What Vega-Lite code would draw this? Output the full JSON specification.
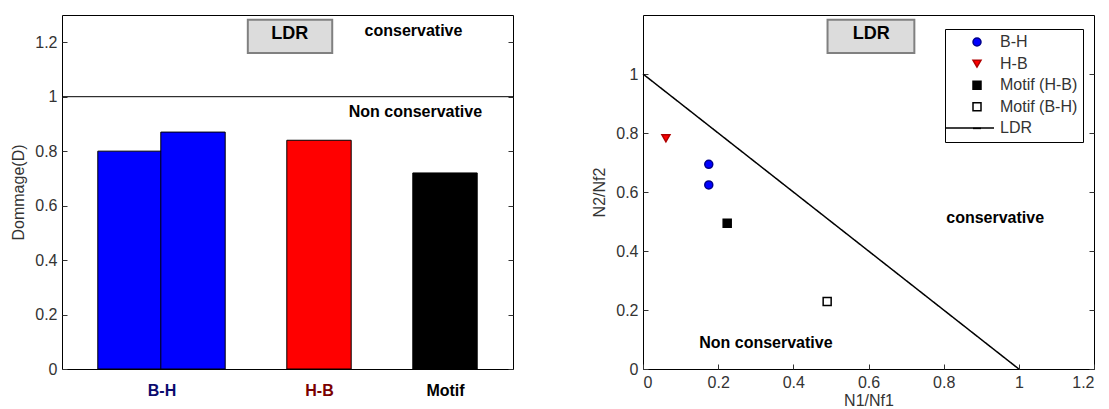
{
  "$schema": "https://vega.github.io/schema/vega-lite/v6.json",
  "padding": {"left": 10, "top": 14, "right": 5, "bottom": 5},
  "background": "white",
  "config": {
    "font": "Liberation Sans",
    "view": {"stroke": "#000", "strokeWidth": 1},
    "axis": {"grid": false, "labelFont": "Liberation Sans", "labelFontSize": 16, "labelColor": "#333", "titleFont": "Liberation Sans", "titleFontSize": 16, "titleFontWeight": "normal", "titleColor": "#333", "tickColor": "#333", "domain": false}
  },
  "resolve": {"scale": {"fill": "independent", "stroke": "independent", "shape": "independent", "strokeDash": "independent"}},
  "hconcat": [
    {
      "width": 451,
      "height": 354,
      "data": {"values": [
        {"groupe": "B-H", "pos": 1, "D": 0.80},
        {"groupe": "B-H", "pos": 2, "D": 0.87},
        {"groupe": "H-B", "pos": 4, "D": 0.84},
        {"groupe": "Motif", "pos": 6, "D": 0.72}
      ]},
      "layer": [
        {
          "mark": {"type": "bar", "width": 64.4, "stroke": "#000", "strokeWidth": 1},
          "encoding": {
            "x": {"field": "pos", "type": "quantitative", "scale": {"domain": [0, 7], "nice": false, "zero": false},
              "axis": {"values": [1.5, 4, 6], "labelExpr": "datum.value < 2 ? 'B-H' : datum.value < 5 ? 'H-B' : 'Motif'", "ticks": false, "title": null, "labelFontSize": 16, "labelFontWeight": "bold", "labelPadding": 13,
                "labelColor": {"condition": [{"test": "datum.value < 2", "value": "#0b0b6e"}, {"test": "datum.value > 3 && datum.value < 5", "value": "#7a0000"}], "value": "#000"}}},
            "y": {"field": "D", "type": "quantitative", "scale": {"domain": [0, 1.3], "nice": false},
              "axis": {"orient": "left", "values": [0, 0.2, 0.4, 0.6, 0.8, 1, 1.2], "format": "~g", "tickSize": -5, "labelPadding": 10, "title": "Dommage(D)", "titlePadding": 8}},
            "fill": {"field": "groupe", "type": "nominal", "scale": {"domain": ["B-H", "H-B", "Motif"], "range": ["#0000ff", "#ff0000", "#000000"]}, "legend": null}
          }
        },
        {
          "data": {"values": [{}]},
          "mark": {"type": "rule", "color": "#000", "strokeWidth": 1},
          "encoding": {
            "y": {"datum": 1, "type": "quantitative", "axis": {"orient": "right", "values": [0, 0.2, 0.4, 0.6, 0.8, 1, 1.2], "labels": false, "tickSize": -5, "title": null}}
          }
        },
        {
          "data": {"values": [{}]},
          "mark": {"type": "rect", "fill": "#dcdcdc", "stroke": "#808080", "strokeWidth": 2},
          "encoding": {
            "x": {"datum": 2.87, "type": "quantitative"}, "x2": {"datum": 4.21},
            "y": {"datum": 1.283, "type": "quantitative", "axis": null}, "y2": {"datum": 1.16}
          }
        },
        {
          "data": {"values": [{"t": "LDR"}]},
          "mark": {"type": "text", "fontSize": 18, "fontWeight": "bold", "color": "#000", "baseline": "middle"},
          "encoding": {"x": {"datum": 3.534, "type": "quantitative"}, "y": {"datum": 1.23, "type": "quantitative", "axis": null}, "text": {"field": "t"}}
        },
        {
          "data": {"values": [{"t": "conservative"}]},
          "mark": {"type": "text", "fontSize": 16, "fontWeight": "bold", "color": "#000", "baseline": "middle"},
          "encoding": {"x": {"datum": 5.5, "type": "quantitative"}, "y": {"datum": 1.241, "type": "quantitative", "axis": null}, "text": {"field": "t"}}
        },
        {
          "data": {"values": [{"t": "Non conservative"}]},
          "mark": {"type": "text", "fontSize": 16, "fontWeight": "bold", "color": "#000", "baseline": "middle"},
          "encoding": {"x": {"datum": 5.53, "type": "quantitative"}, "y": {"datum": 0.944, "type": "quantitative", "axis": null}, "text": {"field": "t"}}
        }
      ],
      "resolve": {"axis": {"y": "independent"}}
    },
    {
      "width": 451,
      "height": 354,
      "data": {"values": [
        {"serie": "B-H", "N1": 0.175, "N2": 0.694},
        {"serie": "B-H", "N1": 0.175, "N2": 0.624},
        {"serie": "H-B", "N1": 0.061, "N2": 0.782},
        {"serie": "Motif (H-B)", "N1": 0.224, "N2": 0.494},
        {"serie": "Motif (B-H)", "N1": 0.49, "N2": 0.229}
      ]},
      "layer": [
        {
          "data": {"values": [{"courbe": "LDR", "N1": 0, "N2": 1}, {"courbe": "LDR", "N1": 1, "N2": 0}]},
          "mark": {"type": "line", "color": "#000", "strokeWidth": 1.5},
          "encoding": {
            "x": {"field": "N1", "type": "quantitative", "scale": {"domain": [0, 1.2], "nice": false},
              "axis": {"values": [0, 0.2, 0.4, 0.6, 0.8, 1, 1.2], "format": "~g", "tickSize": -5, "labelPadding": 10, "title": "N1/Nf1", "titlePadding": 2}},
            "y": {"field": "N2", "type": "quantitative", "scale": {"domain": [0, 1.2], "nice": false},
              "axis": {"orient": "left", "values": [0, 0.2, 0.4, 0.6, 0.8, 1], "format": "~g", "tickSize": -5, "labelPadding": 10, "title": "N2/Nf2", "titlePadding": 8}},
            "strokeDash": {"field": "courbe", "type": "nominal", "scale": {"domain": ["LDR"], "range": [[1, 0]]},
              "legend": {"title": null, "orient": "none", "legendX": 302, "legendY": 88, "padding": 0, "symbolType": "stroke", "symbolSize": 2304, "symbolStrokeWidth": 1.5, "symbolStrokeColor": "#000", "labelExpr": "''", "labelFontSize": 16}}
          }
        },
        {
          "mark": {"type": "point", "filled": true, "size": 64, "strokeWidth": 1.5, "opacity": 1},
          "encoding": {
            "x": {"field": "N1", "type": "quantitative"},
            "y": {"field": "N2", "type": "quantitative", "axis": {"orient": "right", "values": [0, 0.2, 0.4, 0.6, 0.8, 1], "labels": false, "tickSize": -5, "title": null}},
            "shape": {"field": "serie", "type": "nominal",
              "scale": {"domain": ["B-H", "H-B", "Motif (H-B)", "Motif (B-H)", "LDR"], "range": ["circle", "triangle-down", "square", "square", "stroke"]},
              "legend": {"title": null, "orient": "none", "legendX": 302, "legendY": 14, "strokeColor": "#000", "fillColor": null, "padding": 5, "symbolSize": 64, "symbolStrokeWidth": 1.5, "symbolOffset": 19, "labelOffset": 15, "labelFontSize": 16, "labelColor": "#333", "labelFont": "Liberation Sans", "rowPadding": 5.6}},
            "fill": {"field": "serie", "type": "nominal", "scale": {"domain": ["B-H", "H-B", "Motif (H-B)", "Motif (B-H)", "LDR"], "range": ["#0000ff", "#ff0000", "#000000", "#ffffff", "#000000"]}},
            "stroke": {"field": "serie", "type": "nominal", "scale": {"domain": ["B-H", "H-B", "Motif (H-B)", "Motif (B-H)", "LDR"], "range": ["#00008b", "#b00000", "#000000", "#000000", "#000000"]}}
          }
        },
        {
          "data": {"values": [{}]},
          "mark": {"type": "rect", "fill": "#dcdcdc", "stroke": "#808080", "strokeWidth": 2},
          "encoding": {
            "x": {"datum": 0.491, "type": "quantitative"}, "x2": {"datum": 0.722},
            "y": {"datum": 1.184, "type": "quantitative", "axis": null}, "y2": {"datum": 1.071}
          }
        },
        {
          "data": {"values": [{"t": "LDR"}]},
          "mark": {"type": "text", "fontSize": 18, "fontWeight": "bold", "color": "#000", "baseline": "middle"},
          "encoding": {"x": {"datum": 0.607, "type": "quantitative"}, "y": {"datum": 1.136, "type": "quantitative", "axis": null}, "text": {"field": "t"}}
        },
        {
          "data": {"values": [{"t": "conservative"}]},
          "mark": {"type": "text", "fontSize": 16, "fontWeight": "bold", "color": "#000", "baseline": "middle"},
          "encoding": {"x": {"datum": 0.937, "type": "quantitative"}, "y": {"datum": 0.512, "type": "quantitative", "axis": null}, "text": {"field": "t"}}
        },
        {
          "data": {"values": [{"t": "Non conservative"}]},
          "mark": {"type": "text", "fontSize": 16, "fontWeight": "bold", "color": "#000", "baseline": "middle"},
          "encoding": {"x": {"datum": 0.327, "type": "quantitative"}, "y": {"datum": 0.089, "type": "quantitative", "axis": null}, "text": {"field": "t"}}
        }
      ],
      "resolve": {"axis": {"y": "independent"}}
    }
  ],
  "spacing": 130,
  "bounds": "flush"
}
